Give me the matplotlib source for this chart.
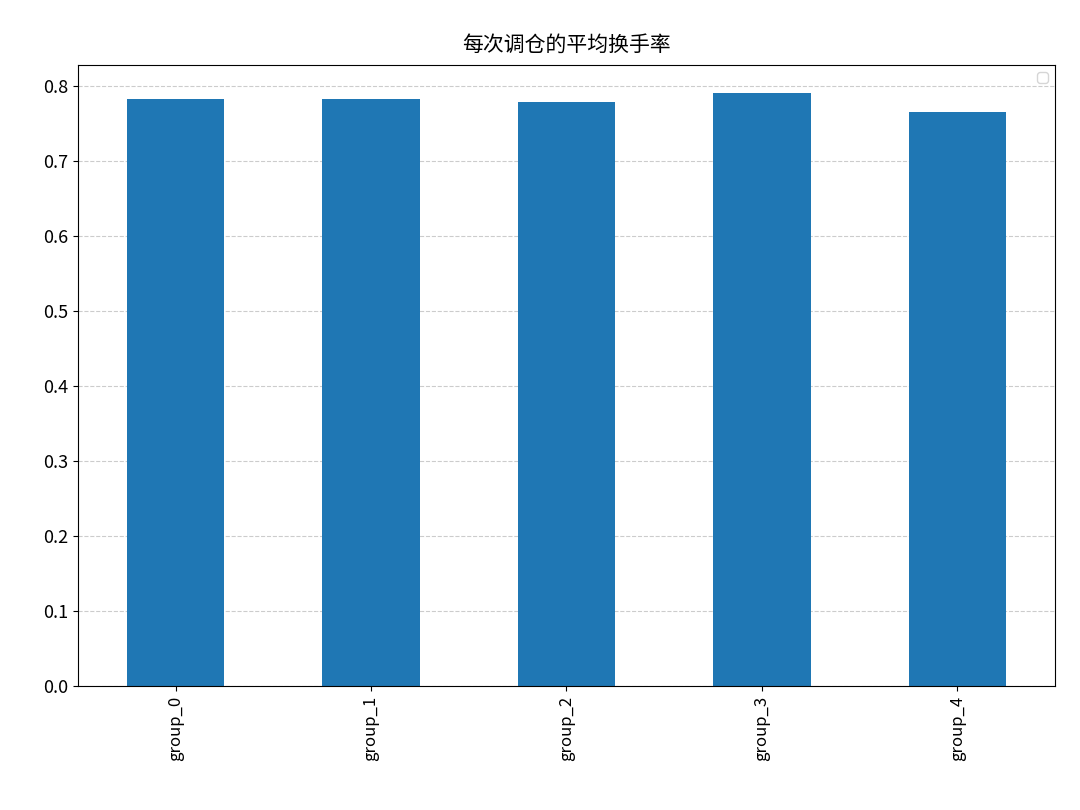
import matplotlib
matplotlib.use("Agg")
import matplotlib.pyplot as plt

plt.rcParams['font.family'] = ['Noto Sans CJK SC', 'DejaVu Sans']
plt.rcParams['axes.unicode_minus'] = False

groups = ["group_0", "group_1", "group_2", "group_3", "group_4"]
turnover = [0.782, 0.782, 0.779, 0.790, 0.765]

fig = plt.figure(figsize=(10.8, 8.1), dpi=100)
ax = fig.add_axes([0.072, 0.153, 0.905, 0.767])
x = list(range(len(groups)))
ax.bar(x, turnover, width=0.5, color="#1f77b4")
ax.set_xlim(-0.5, len(groups) - 0.5)
ax.set_ylim(0, 0.828)
ax.set_xticks(x)
ax.set_xticklabels(groups, rotation=90, fontsize=12)
ax.tick_params(axis='y', labelsize=13)
ax.set_yticks([i / 10 for i in range(9)])
ax.yaxis.grid(True, linestyle='--', color='#cccccc')
ax.set_axisbelow(True)
ax.set_title("每次调仓的平均换手率", fontsize=15, pad=10)
ax.legend(handles=[], loc='upper right')
fig.savefig("out.png", dpi=100)
